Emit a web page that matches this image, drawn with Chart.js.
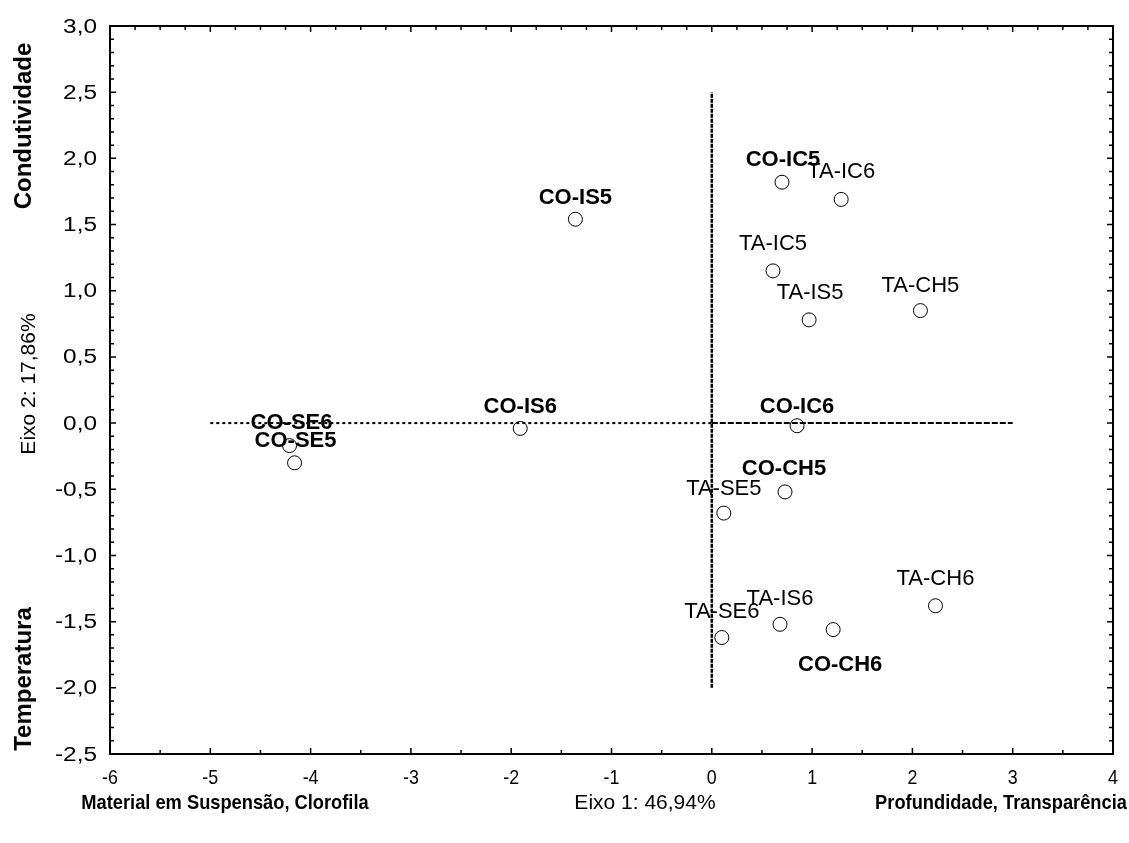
<!DOCTYPE html>
<html>
<head>
<meta charset="utf-8">
<script src="https://cdn.jsdelivr.net/npm/chart.js@4/dist/chart.umd.min.js"></script>
<style>
  html, body { margin: 0; padding: 0; background: #fff; }
  #wrap { width: 1129px; height: 843px; }
</style>
</head>
<body>
<div id="wrap"><canvas id="c" width="1129" height="843"></canvas></div>
<script>
// ── DADOS ─────────────────────────────────────────────────────────
const nomes = ['CO-IS5', 'CO-IC5', 'TA-IC6', 'TA-IC5', 'TA-IS5', 'TA-CH5',
               'CO-SE6', 'CO-SE5', 'CO-IS6', 'CO-IC6', 'CO-CH5', 'TA-SE5',
               'TA-SE6', 'TA-IS6', 'CO-CH6', 'TA-CH6'];
const eixo1 = [-1.36, 0.70, 1.29, 0.61, 0.97, 2.08,
               -4.21, -4.16, -1.91, 0.85, 0.73, 0.12,
               0.10, 0.68, 1.21, 2.23];
const eixo2 = [1.54, 1.82, 1.69, 1.15, 0.78, 0.85,
               -0.17, -0.30, -0.04, -0.02, -0.52, -0.68,
               -1.62, -1.52, -1.56, -1.38];

const linhaHEsq = [{ x: -5, y: 0 }, { x: 0, y: 0 }];
const linhaHDir = [{ x: 0, y: 0 }, { x: 3, y: 0 }];
const linhaV    = [{ x: 0, y: -2 }, { x: 0, y: 2.5 }];

const xTitulos = ['Material em Suspensão, Clorofila', 'Eixo 1: 46,94%', 'Profundidade, Transparência'];
const yTitulos = ['Condutividade', 'Eixo 2: 17,86%', 'Temperatura'];

// deslocamento dos rótulos (px) em relação ao ponto
const rotDx = [0, 1, 0, 0, 1, 0, 2, 1, 0, 0, -1, 0, 0, 0, 7, 0];
const rotDy = [-21, -22, -27, -27, -27, -25, -23, -22, -21, -19, -23, -24, -26, -25, 35, -27];

// ── PLUGIN: moldura, marcas internas, rótulos e títulos ───────────
const FONT = '"Liberation Sans", Arial, sans-serif';

function texto(ctx, txt, px, py, font, sx) {
  ctx.save();
  ctx.translate(px, py);
  ctx.scale(sx, 1);
  ctx.font = font;
  ctx.fillText(txt, 0, 0);
  ctx.restore();
}

const moldura = {
  id: 'moldura',
  afterDatasetsDraw(chart) {
    const { ctx, chartArea: a, scales: { x, y } } = chart;
    ctx.save();

    // rótulos dos pontos
    ctx.fillStyle = '#000';
    ctx.textAlign = 'center';
    ctx.textBaseline = 'middle';
    nomes.forEach((n, i) => {
      const bold = n.startsWith('CO');
      ctx.font = (bold ? 'bold ' : '') + '22px ' + FONT;
      ctx.fillText(n, x.getPixelForValue(eixo1[i]) + rotDx[i], y.getPixelForValue(eixo2[i]) + rotDy[i]);
    });

    // moldura
    ctx.strokeStyle = '#000';
    ctx.lineWidth = 2;
    ctx.strokeRect(a.left, a.top, a.right - a.left, a.bottom - a.top);

    // marcas x (baixo a cada 0,5, cima a cada 0,25)
    ctx.lineWidth = 1.5;
    for (let v = -6; v <= 4.001; v += 0.25) {
      const px = x.getPixelForValue(v);
      const maj = Math.abs(v - Math.round(v)) < 1e-6;
      const half = Math.abs(v * 2 - Math.round(v * 2)) < 1e-6;
      ctx.beginPath();
      ctx.moveTo(px, a.top); ctx.lineTo(px, a.top + (maj ? 6 : 4));
      if (half) { ctx.moveTo(px, a.bottom); ctx.lineTo(px, a.bottom - (maj ? 6 : 4)); }
      ctx.stroke();
    }
    // marcas y a cada 0,1
    for (let k = -25; k <= 30; k++) {
      const v = k / 10;
      const py = y.getPixelForValue(v);
      const maj = k % 5 === 0;
      const len = maj ? 6 : 4;
      ctx.beginPath();
      ctx.moveTo(a.left, py); ctx.lineTo(a.left + len, py);
      ctx.moveTo(a.right, py); ctx.lineTo(a.right - len, py);
      ctx.stroke();
    }

    // rótulos do eixo y (texto largo, como no original)
    ctx.textAlign = 'right';
    y.ticks.forEach(t => {
      texto(ctx, t.value.toFixed(1).replace('.', ','), a.left - 13, y.getPixelForValue(t.value) + 1, '20px ' + FONT, 1.22);
    });

    // rótulos do eixo x (texto estreito)
    ctx.textAlign = 'center';
    x.ticks.forEach(t => {
      texto(ctx, String(t.value), x.getPixelForValue(t.value), 778, '21px ' + FONT, 0.85);
    });

    // títulos eixo x
    texto(ctx, xTitulos[0], 225, 803, 'bold 21px ' + FONT, 0.87);
    texto(ctx, xTitulos[1], 645, 803, '21px ' + FONT, 1);
    texto(ctx, xTitulos[2], 1001, 803, 'bold 21px ' + FONT, 0.87);

    // títulos eixo y
    const rot = (txt, cx, cy, font) => {
      ctx.save();
      ctx.translate(cx, cy);
      ctx.rotate(-Math.PI / 2);
      ctx.font = font;
      ctx.fillText(txt, 0, 0);
      ctx.restore();
    };
    rot(yTitulos[0], 24, 126, 'bold 24px ' + FONT);
    rot(yTitulos[1], 29, 384, '21px ' + FONT);
    rot(yTitulos[2], 24, 679, 'bold 24px ' + FONT);

    ctx.restore();
  }
};

// ── GRÁFICO ───────────────────────────────────────────────────────
const pontos = eixo1.map((v, i) => ({ x: v, y: eixo2[i] }));

new Chart(document.getElementById('c'), {
  type: 'scatter',
  data: {
    datasets: [
      { data: linhaHEsq, showLine: true, borderColor: '#000', borderWidth: 2, borderDash: [3, 3], pointRadius: 0 },
      { data: linhaHDir, showLine: true, borderColor: '#000', borderWidth: 2, borderDash: [6, 2], pointRadius: 0 },
      { data: linhaV, showLine: true, borderColor: '#000', borderWidth: 2.5, borderDash: [4, 1], pointRadius: 0 },
      { data: pontos, pointRadius: 7, pointBackgroundColor: '#fff', pointBorderColor: '#000', pointBorderWidth: 1 },
    ],
  },
  options: {
    responsive: false,
    animation: false,
    layout: { padding: { top: 26, right: 16, left: 0, bottom: 0 } },
    plugins: { legend: { display: false }, tooltip: { enabled: false } },
    scales: {
      x: {
        type: 'linear', min: -6, max: 4,
        grid: { display: false },
        border: { display: false },
        ticks: { stepSize: 1, display: false },
        afterFit(s) { s.height = 89; },
      },
      y: {
        type: 'linear', min: -2.5, max: 3,
        grid: { display: false },
        border: { display: false },
        ticks: { stepSize: 0.5, display: false },
        afterFit(s) { s.width = 110; },
      },
    },
  },
  plugins: [moldura],
});
</script>
</body>
</html>
